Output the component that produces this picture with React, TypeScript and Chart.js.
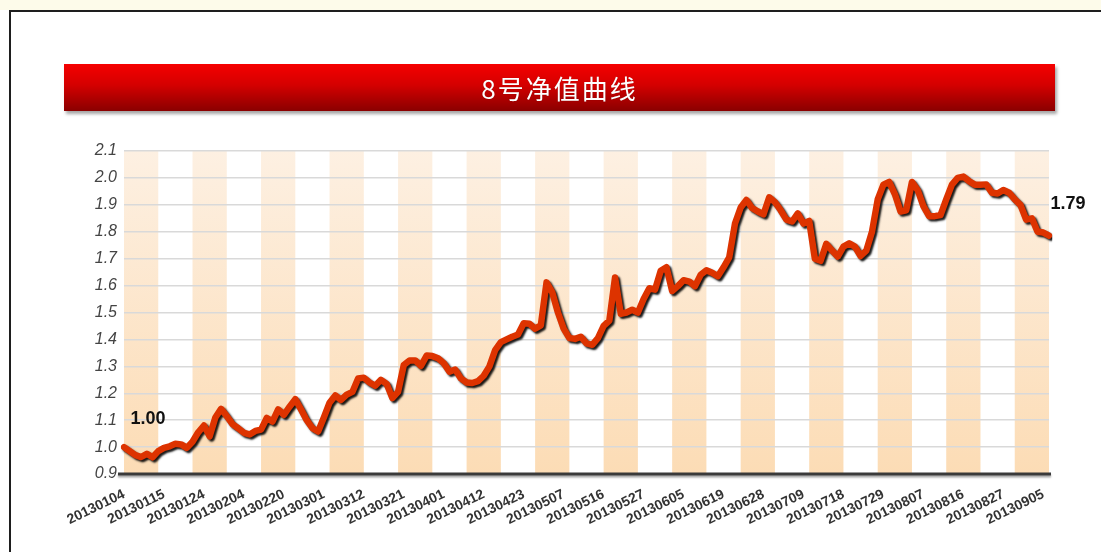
import React, { useEffect, useRef } from 'react';
import { Chart, registerables } from 'chart.js';

Chart.register(...registerables);

const TITLE = '8号净值曲线';

const dates: string[] = [
  '20130104', '20130107', '20130108', '20130109', '20130110', '20130111', '20130114', '20130115', '20130116', '20130117',
  '20130118', '20130121', '20130122', '20130123', '20130124', '20130125', '20130128', '20130129', '20130130', '20130131',
  '20130201', '20130204', '20130205', '20130206', '20130207', '20130208', '20130218', '20130219', '20130220', '20130221',
  '20130222', '20130225', '20130226', '20130227', '20130228', '20130301', '20130304', '20130305', '20130306', '20130307',
  '20130308', '20130311', '20130312', '20130313', '20130314', '20130315', '20130318', '20130319', '20130320', '20130321',
  '20130322', '20130325', '20130326', '20130327', '20130328', '20130329', '20130401', '20130402', '20130403', '20130408',
  '20130409', '20130410', '20130411', '20130412', '20130415', '20130416', '20130417', '20130418', '20130419', '20130422',
  '20130423', '20130424', '20130425', '20130426', '20130502', '20130503', '20130506', '20130507', '20130508', '20130509',
  '20130510', '20130513', '20130514', '20130515', '20130516', '20130517', '20130520', '20130521', '20130522', '20130523',
  '20130524', '20130527', '20130528', '20130529', '20130530', '20130531', '20130603', '20130604', '20130605', '20130606',
  '20130607', '20130613', '20130614', '20130617', '20130618', '20130619', '20130620', '20130621', '20130624', '20130625',
  '20130626', '20130627', '20130628', '20130701', '20130702', '20130703', '20130704', '20130705', '20130708', '20130709',
  '20130710', '20130711', '20130712', '20130715', '20130716', '20130717', '20130718', '20130719', '20130722', '20130723',
  '20130724', '20130725', '20130726', '20130729', '20130730', '20130731', '20130801', '20130802', '20130805', '20130806',
  '20130807', '20130808', '20130809', '20130812', '20130813', '20130814', '20130815', '20130816', '20130819', '20130820',
  '20130821', '20130822', '20130823', '20130826', '20130827', '20130828', '20130829', '20130830', '20130902', '20130903',
  '20130904', '20130905', '20130906',
];

const nav: number[] = [
  1.000, 0.985, 0.970, 0.963, 0.975, 0.962, 0.985, 0.997, 1.003, 1.012,
  1.010, 0.997, 1.020, 1.055, 1.080, 1.040, 1.110, 1.142, 1.115, 1.085,
  1.070, 1.053, 1.047, 1.060, 1.065, 1.108, 1.095, 1.140, 1.120, 1.150,
  1.178, 1.140, 1.100, 1.070, 1.058, 1.110, 1.165, 1.192, 1.175, 1.195,
  1.205, 1.255, 1.258, 1.240, 1.228, 1.250, 1.235, 1.182, 1.205, 1.305,
  1.322, 1.322, 1.302, 1.340, 1.338, 1.330, 1.312, 1.280, 1.288, 1.255,
  1.240, 1.238, 1.245, 1.265, 1.300, 1.360, 1.390, 1.400, 1.410, 1.418,
  1.460, 1.458, 1.440, 1.452, 1.612, 1.575, 1.500, 1.440, 1.405, 1.402,
  1.410, 1.385, 1.380, 1.405, 1.450, 1.470, 1.630, 1.495, 1.500, 1.510,
  1.500, 1.550, 1.590, 1.585, 1.655, 1.668, 1.580, 1.598, 1.620, 1.615,
  1.598, 1.640, 1.657, 1.648, 1.635, 1.668, 1.705, 1.830, 1.890, 1.918,
  1.888, 1.875, 1.865, 1.928, 1.910, 1.880, 1.845, 1.838, 1.868, 1.830,
  1.840, 1.700, 1.692, 1.755, 1.730, 1.708, 1.745, 1.757, 1.745, 1.710,
  1.730, 1.800, 1.920, 1.975, 1.985, 1.940, 1.875, 1.880, 1.985, 1.955,
  1.895, 1.858, 1.858, 1.862, 1.920, 1.975, 2.000, 2.005, 1.988, 1.975,
  1.975, 1.976, 1.945, 1.942, 1.955, 1.945, 1.920, 1.900, 1.845, 1.850,
  1.800, 1.797, 1.786,
];

const Y_MIN = 0.9;
const Y_MAX = 2.1;
const Y_STEP = 0.1;
const BAND_EVERY = 6;
const LABEL_EVERY = 7;

export default function App() {
  const ref = useRef<HTMLCanvasElement>(null);

  useEffect(() => {
    if (!ref.current) return;

    const bandsPlugin = {
      id: 'bands',
      beforeDraw(chart: any) {
        const { ctx, chartArea, scales } = chart;
        const x = scales.x;
        const { top, bottom } = chartArea;
        const g = ctx.createLinearGradient(0, top, 0, bottom);
        g.addColorStop(0, '#fdf0e2');
        g.addColorStop(1, '#fcdcb5');
        ctx.save();
        ctx.fillStyle = g;
        const last = dates.length - 1;
        for (let k = 0; k * BAND_EVERY < last; k += 2) {
          const x0 = x.getPixelForValue(k * BAND_EVERY);
          const x1 = x.getPixelForValue(Math.min((k + 1) * BAND_EVERY, last));
          ctx.fillRect(x0, top, x1 - x0, bottom - top);
        }
        ctx.restore();
      },
      beforeDatasetsDraw(chart: any) {
        const { ctx, chartArea } = chart;
        ctx.save();
        ctx.shadowColor = 'rgba(0,0,0,0.35)';
        ctx.shadowOffsetY = 2;
        ctx.shadowBlur = 2;
        ctx.strokeStyle = '#3a3a3a';
        ctx.lineWidth = 3;
        ctx.beginPath();
        ctx.moveTo(chartArea.left - 6, chartArea.bottom);
        ctx.lineTo(chartArea.right + 2, chartArea.bottom);
        ctx.stroke();
        ctx.restore();
      },
      beforeDatasetDraw(chart: any) {
        const ctx = chart.ctx;
        ctx.save();
        ctx.shadowColor = 'rgba(0,0,0,0.9)';
        ctx.shadowOffsetX = 2;
        ctx.shadowOffsetY = 2;
        ctx.shadowBlur = 2;
      },
      afterDatasetDraw(chart: any) {
        chart.ctx.restore();
      },
      afterDatasetsDraw(chart: any) {
        const { ctx, scales } = chart;
        const x = scales.x;
        const y = scales.y;
        ctx.save();
        ctx.fillStyle = '#111';
        ctx.font = 'bold 18px "Liberation Sans", Arial, sans-serif';
        ctx.textAlign = 'center';
        ctx.textBaseline = 'middle';
        const first = nav[0];
        const lastIdx = nav.length - 1;
        const lastV = nav[lastIdx];
        ctx.fillText(first.toFixed(2), x.getPixelForValue(0) + 24, y.getPixelForValue(first) - 28);
        ctx.fillText(lastV.toFixed(2), x.getPixelForValue(lastIdx) + 19, y.getPixelForValue(lastV) - 31);
        ctx.restore();
      },
    };

    const chart = new Chart(ref.current, {
      type: 'line',
      data: {
        labels: dates,
        datasets: [
          {
            data: nav,
            borderColor: '#dd3300',
            borderWidth: 6.5,
            borderJoinStyle: 'round',
            borderCapStyle: 'round',
            pointRadius: 0,
            tension: 0,
            fill: false,
          },
        ],
      },
      options: {
        animation: false,
        responsive: false,
        maintainAspectRatio: false,
        layout: { padding: { left: 0, top: 151, right: 52, bottom: 0 } },
        plugins: { legend: { display: false }, tooltip: { enabled: false }, title: { display: false } },
        scales: {
          x: {
            type: 'category',
            offset: false,
            grid: { display: false },
            border: { display: false },
            ticks: {
              autoSkip: false,
              minRotation: 26,
              maxRotation: 26,
              padding: 4,
              color: '#333',
              font: { family: '"Liberation Sans", Arial, sans-serif', size: 14, weight: 'bold' },
              callback: (_v: any, i: number) => (i % LABEL_EVERY === 0 ? dates[i] : ''),
            },
            afterFit: (s: any) => {
              s.height = 79;
            },
          },
          y: {
            min: Y_MIN,
            max: Y_MAX,
            grid: { color: '#d9d9d9', lineWidth: 1.5, drawTicks: false },
            border: { display: false },
            ticks: {
              stepSize: Y_STEP,
              padding: 7,
              color: '#444',
              font: { family: '"Liberation Sans", Arial, sans-serif', size: 16, style: 'italic' },
              callback: (v: any) => Number(v).toFixed(1),
            },
            afterFit: (s: any) => {
              s.width = 124;
            },
          },
        },
      },
      plugins: [bandsPlugin],
    } as any);

    return () => chart.destroy();
  }, []);

  return (
    <div style={{ position: 'fixed', left: 0, top: 0, width: 1101, height: 553, background: '#fff', overflow: 'hidden' }}>
      <div style={{ position: 'absolute', left: 0, top: 0, width: 1101, height: 10, background: '#fdfbea' }} />
      <div
        style={{
          position: 'absolute',
          left: 9,
          top: 10,
          width: 1200,
          height: 540,
          borderTop: '2px solid #1e1e1e',
          borderLeft: '2px solid #1e1e1e',
        }}
      />
      <canvas ref={ref} width={1101} height={553} style={{ position: 'absolute', left: 0, top: 0, width: 1101, height: 553 }} />
      <div
        style={{
          position: 'absolute',
          left: 64,
          top: 64,
          width: 991,
          height: 47,
          background: 'linear-gradient(to bottom, #f50000 0%, #d40000 45%, #8a0000 100%)',
          boxShadow: '2px 3px 3px rgba(0,0,0,0.35)',
          color: '#fff',
          display: 'flex',
          alignItems: 'center',
          justifyContent: 'center',
          fontFamily: '"Noto Sans CJK SC", sans-serif',
          fontSize: 26,
          letterSpacing: 2,
          textShadow: '0 0 1px rgba(0,0,0,0.3)',
        }}
      >
        {TITLE}
      </div>
    </div>
  );
}
